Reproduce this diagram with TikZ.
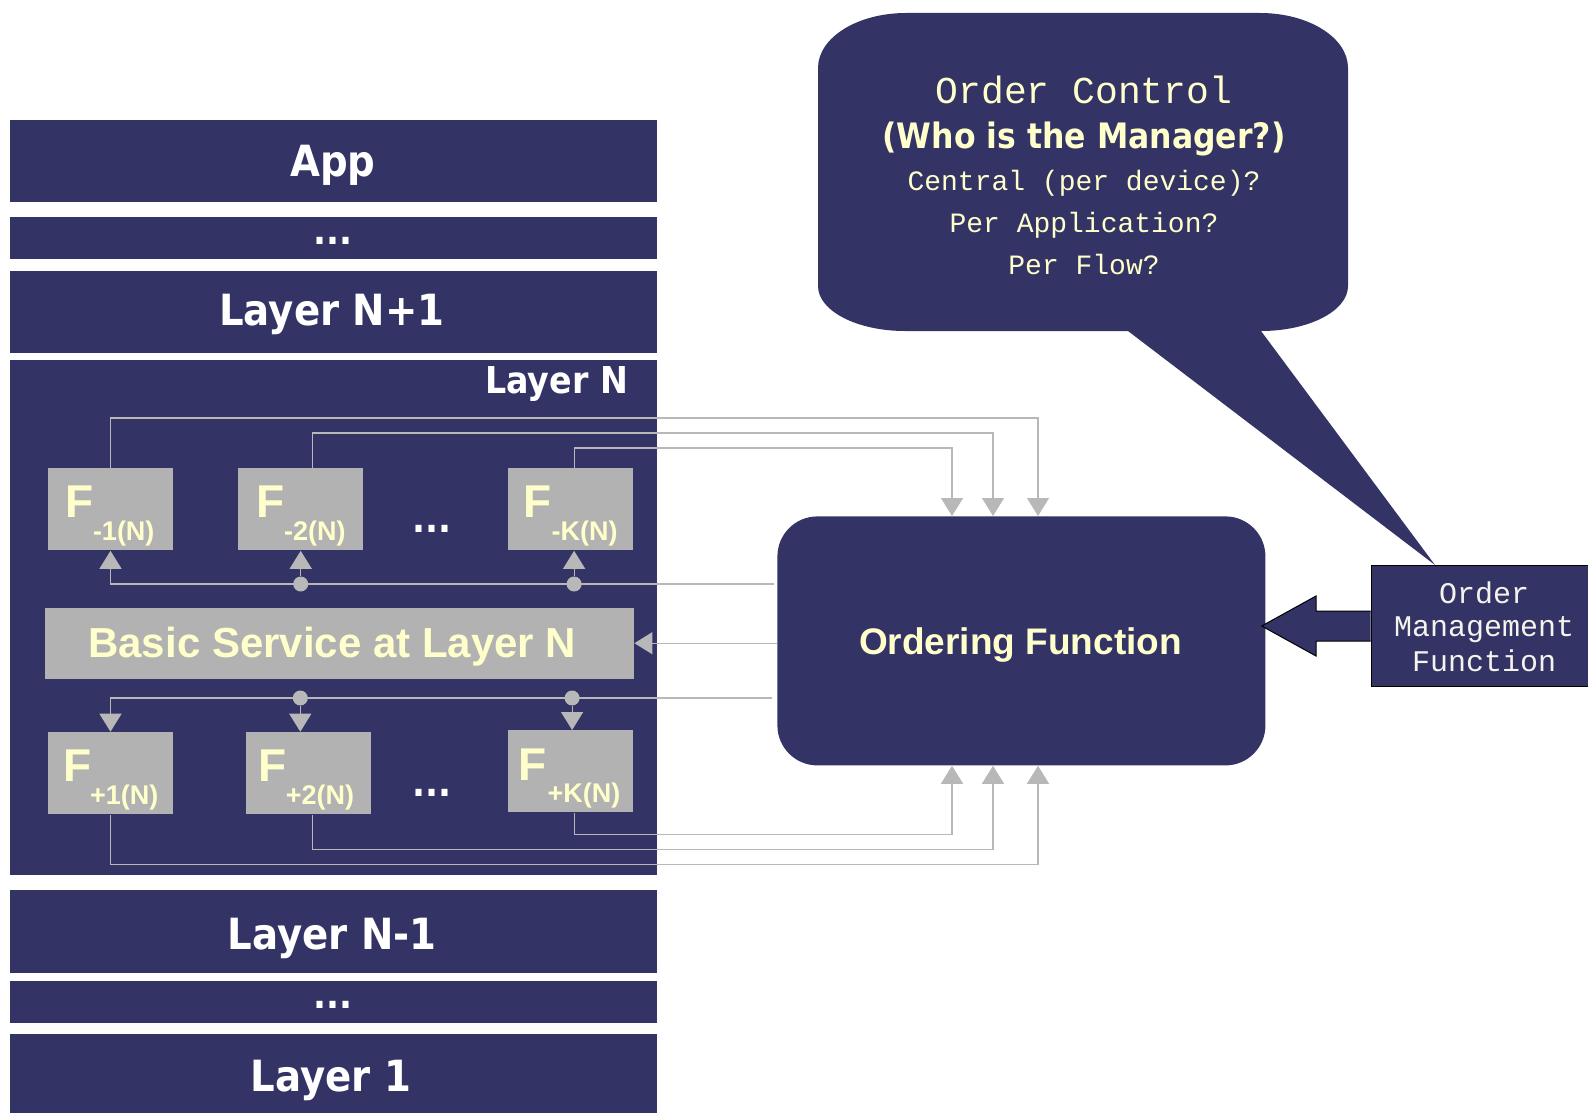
\documentclass[tikz,border=0pt]{standalone}
\usepackage{fontspec}
\setmainfont{Liberation Sans}
\newfontfamily\barfont[FakeStretch=0.9]{DejaVu Sans}
\newfontfamily\monofont{Liberation Mono}
\usetikzlibrary{arrows.meta,calc}
\definecolor{navy}{HTML}{333366}
\definecolor{boxgray}{HTML}{B2B2B2}
\definecolor{wire}{HTML}{B8B8B8}
\definecolor{cream}{HTML}{FFFFCC}
\definecolor{paper}{HTML}{F4F4EC}

\begin{document}
\begin{tikzpicture}[x=0.5pt,y=-0.5pt,
  bartext/.style={anchor=base, inner sep=0, text=white, font=\barfont\bfseries\fontsize{21.5}{21.5}\selectfont},
  fbox/.style={rectangle, fill=boxgray, draw=none, inner sep=0, anchor=north west, minimum width=62.5pt, minimum height=41pt},
  flab/.style={anchor=base west, inner sep=0, text=cream, font=\bfseries\fontsize{23}{23}\selectfont},
  fsub/.style={anchor=base west, inner sep=0, text=cream, font=\bfseries\fontsize{13.5}{13.5}\selectfont},
  dots/.style={anchor=base, inner sep=0, text=white, font=\barfont\bfseries\fontsize{19}{19}\selectfont},
  conn/.style={draw=wire, line width=0.6pt},
  arr/.style={-{Triangle[width=11pt,length=9pt]}, wire},
  tap/.style={circle, fill=wire, draw=none, minimum size=7.5pt, inner sep=0},
  bubtext/.style={anchor=base, inner sep=0, text=cream, font=\monofont\fontsize{14}{14}\selectfont},
  omtext/.style={anchor=base, inner sep=0, text=paper, font=\monofont\fontsize{15}{15}\selectfont}]

\useasboundingbox (0,0) rectangle (1588,1113);
\fill[white] (0,0) rectangle (1588,1113);

% ---- protocol stack ----
\fill[navy] (10,119.5) rectangle (656.5,201.7);
\fill[navy] (10,217.3) rectangle (656.5,259.3);
\fill[navy] (10,271.4) rectangle (656.5,352.7);
\fill[navy] (10,360) rectangle (656.5,875);
\fill[navy] (10,890) rectangle (656.5,972.7);
\fill[navy] (10,980.7) rectangle (656.5,1022.7);
\fill[navy] (10,1034) rectangle (656.5,1113);

\node[bartext] (tApp) at (333,176.7) {App};
\node[dots] (tDots1) at (333,244) {...};
\node[bartext] (tNp1) at (332,325) {Layer N+1};
\node[bartext, anchor=base east, font=\barfont\bfseries\fontsize{18.5}{18.5}\selectfont] (tN) at (628.3,393.3) {Layer N};
\node[bartext] (tNm1) at (332,949.3) {Layer N-1};
\node[dots] (tDots2) at (333,1008.5) {...};
\node[bartext] (tL1) at (331,1091.7) {Layer 1};

% ---- functions inside layer N ----
\node[fbox] (fm1) at (47.6,468) {};
\node[fbox] (fm2) at (237.8,468) {};
\node[fbox] (fmK) at (507.2,468) {};
\node[fbox] (fp1) at (47.6,731.7) {};
\node[fbox] (fp2) at (245.4,731.7) {};
\node[fbox] (fpK) at (507.2,730) {};
\node[rectangle, fill=boxgray, inner sep=0, anchor=north west, minimum width=294.7pt, minimum height=35.5pt] (bs) at (44.2,607.3) {};
\node[anchor=base, inner sep=0, text=cream, font=\bfseries\fontsize{21}{21}\selectfont] (bsText) at (332.3,657.3) {Basic Service at Layer N};

\node[flab] (fm1F) at ($(fm1.north west)+(17,49)$) {F};
\node[fsub] (fm1S) at ($(fm1.north west)+(45,72)$) {-1(N)};
\node[flab] (fm2F) at ($(fm2.north west)+(18,49)$) {F};
\node[fsub] (fm2S) at ($(fm2.north west)+(46,72)$) {-2(N)};
\node[flab] (fmKF) at ($(fmK.north west)+(16,49)$) {F};
\node[fsub] (fmKS) at ($(fmK.north west)+(44,72)$) {-K(N)};
\node[flab] (fp1F) at ($(fp1.north west)+(15,50)$) {F};
\node[fsub] (fp1S) at ($(fp1.north west)+(42,72.5)$) {+1(N)};
\node[flab] (fp2F) at ($(fp2.north west)+(13,50)$) {F};
\node[fsub] (fp2S) at ($(fp2.north west)+(40,72.5)$) {+2(N)};
\node[flab] (fpKF) at ($(fpK.north west)+(11,50)$) {F};
\node[fsub] (fpKS) at ($(fpK.north west)+(40,72.5)$) {+K(N)};

\node[dots] (dotsU) at (432,532.3) {...};
\node[dots] (dotsD) at (432,796.3) {...};

% ---- ordering function ----
\node[rectangle, rounded corners=20pt, fill=navy, inner sep=0, anchor=north west, minimum width=244pt, minimum height=124.5pt] (of) at (777,516) {};
\node[anchor=base, inner sep=0, text=cream, font=\bfseries\fontsize{18.5}{18.5}\selectfont] (ofText) at (1020.5,654) {Ordering Function};

\coordinate (ofin1) at ($(of.north west)+(261,0)$);
\coordinate (ofin2) at ($(of.north west)+(216,0)$);
\coordinate (ofin3) at ($(of.north west)+(175,0)$);
\coordinate (ofout1) at ($(of.south west)+(261,0)$);
\coordinate (ofout2) at ($(of.south west)+(216,0)$);
\coordinate (ofout3) at ($(of.south west)+(175,0)$);

% outputs of the F- functions into the ordering function
\draw[conn, arr] (fm1.north) -- ++(0,-50) -| (ofin1);
\coordinate (m2top) at ($(fm2.north)+(12,0)$);
\draw[conn, arr] (m2top) -- ++(0,-35) -| (ofin2);
\coordinate (mKtop) at ($(fmK.north)+(4,0)$);
\draw[conn, arr] (mKtop) -- ++(0,-20) -| (ofin3);

% outputs of the F+ functions into the ordering function
\draw[conn, arr] (fp1.south) -- ++(0,50.3) -| (ofout1);
\coordinate (p2bot) at ($(fp2.south)+(4.4,0)$);
\draw[conn, arr] (p2bot) -- ++(0,35.3) -| (ofout2);
\coordinate (pKbot) at ($(fpK.south)+(4,0)$);
\draw[conn, arr] (pKbot) -- ++(0,22) -| (ofout3);

% control lines from the ordering function back into layer N
\coordinate (tapA) at (774,584);
\coordinate (tapB) at (772,698);
\coordinate (mKx) at ($(fmK.south)+(4,0)$);
\coordinate (p2x) at ($(fp2.north)+(-8,0)$);
\coordinate (pKx) at ($(fpK.north)+(2,0)$);

\draw[conn, arr] (tapA) -| (fm1.south);
\node[tap] (tapA2) at (fm2.south |- tapA) {};
\node[tap] (tapAK) at (mKx |- tapA) {};
\draw[conn, arr] (tapA2) -- (fm2.south);
\draw[conn, arr] (tapAK) -- (mKx);

\draw[conn, arr] (of.west |- bs.east) -- (bs.east);

\draw[conn, arr] (tapB) -| (fp1.north);
\node[tap] (tapB2) at (p2x |- tapB) {};
\node[tap] (tapBK) at (pKx |- tapB) {};
\draw[conn, arr] (tapB2) -- (p2x);
\draw[conn, arr] (tapBK) -- (pKx);

% ---- speech bubble ----
\fill[navy] (906,13) -- (1260,13)
  .. controls (1308.6,13) and (1348,37.6) .. (1348,68)
  -- (1348,286)
  .. controls (1348,310.9) and (1309,331) .. (1261,331)
  -- (1435,565) -- (1128,331) -- (905,331)
  .. controls (857,331) and (818,310.9) .. (818,286)
  -- (818,68)
  .. controls (818,37.6) and (857.4,13) .. (906,13) -- cycle;

\node[bubtext, font=\monofont\fontsize{19}{19}\selectfont] (oc1) at (1084,104) {Order Control};
\node[bubtext, font=\barfont\bfseries\fontsize{17.5}{17.5}\selectfont] (oc2) at (1084,148.3) {(Who is the Manager?)};
\node[bubtext] (oc3) at (1084,190.7) {Central (per device)?};
\node[bubtext] (oc4) at (1084,232.3) {Per Application?};
\node[bubtext] (oc5) at (1084,274) {Per Flow?};

% ---- order management function ----
\node[rectangle, fill=navy, draw=black, line width=0.5pt, inner sep=0, anchor=north west, minimum width=112pt, minimum height=60.5pt] (om) at (1370.7,565) {};
\filldraw[fill=navy, draw=black, line width=0.5pt]
  ($(om.west)+(0,-15)$) -- ($(om.west)+(-54.7,-15)$) -- ($(om.west)+(-54.7,-30)$)
  -- ($(om.west)+(-109,0)$) -- ($(om.west)+(-54.7,30)$) -- ($(om.west)+(-54.7,15)$)
  -- ($(om.west)+(0,15)$);
\node[omtext] (om1) at (1484,603.3) {Order};
\node[omtext] (om2) at (1484,636.7) {Management};
\node[omtext] (om3) at (1484,671.7) {Function};

\end{tikzpicture}
\end{document}
